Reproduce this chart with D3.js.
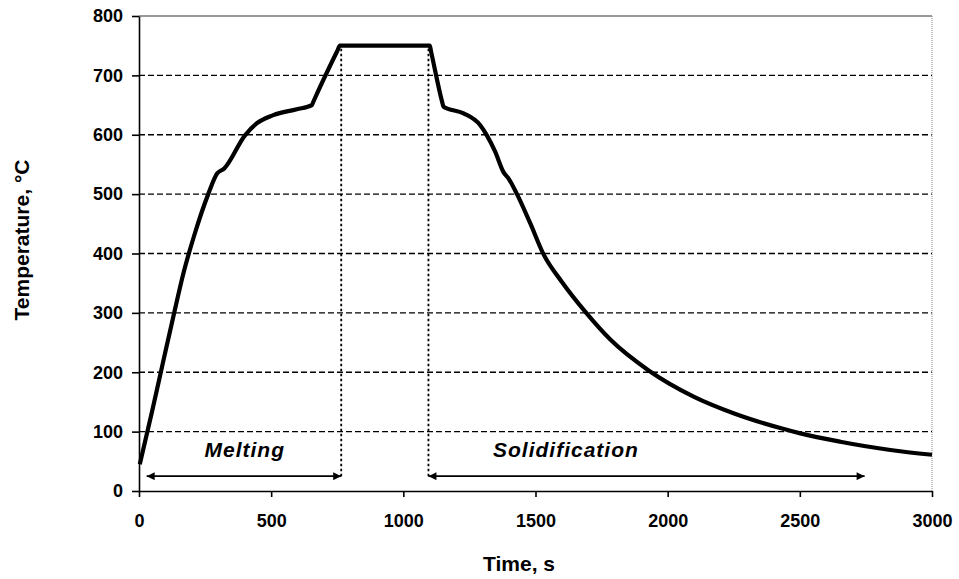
<!DOCTYPE html>
<html>
<head>
<meta charset="utf-8">
<script src="https://cdn.jsdelivr.net/npm/d3@7"></script>
<style>
  html, body { margin: 0; padding: 0; background: #fff; }
  svg { display: block; }
  text { font-family: "Liberation Sans", Arial, sans-serif; fill: #000; }
</style>
</head>
<body>
<svg id="chart" width="959" height="579"></svg>
<script>
// Melt temperature history: heating, holding at 750 °C, then cooling
const timeS = [3, 50, 95, 130, 170, 210, 262, 296, 322, 401, 445, 508, 597, 654, 660, 750, 760,
               1100, 1105, 1147, 1152, 1228, 1291, 1316, 1347, 1379, 1400, 1430, 1480, 1530, 1600, 1688, 1783,
               1928, 2098, 2249, 2426, 2502, 2653, 2843, 3000];
const tempC = [45, 135, 225, 294, 370, 432, 500, 535, 543, 599, 619, 633, 643, 650, 656, 741, 750,
               750, 740, 655, 647, 636, 616, 599, 572, 537, 525, 500, 451, 399, 352, 302, 255,
               203, 159, 131, 106, 97, 83, 69, 61];

const xTicks = [0, 500, 1000, 1500, 2000, 2500, 3000];
const yTicks = [0, 100, 200, 300, 400, 500, 600, 700, 800];

// Process stages marked under the curve
const stageNames = ["Melting", "Solidification"];
const stageStart = [29, 1095];
const stageEnd = [765, 2745];
const stageLabelT = [400, 1615];
const markerTemp = 25;   // height of the stage arrows
const holdTemp = 745;    // top of the stage boundary lines

const svg = d3.select("#chart");
const x = d3.scaleLinear().domain([0, 3000]).range([139, 932]);
const y = d3.scaleLinear().domain([0, 800]).range([491, 16]);

// Arrowhead markers
const defs = svg.append("defs");
["start", "end"].forEach(kind => {
  defs.append("marker")
    .attr("id", "arrow-" + kind)
    .attr("viewBox", "0 0 10 10")
    .attr("refX", kind === "end" ? 10 : 0)
    .attr("refY", 5)
    .attr("markerWidth", 6.5)
    .attr("markerHeight", 5)
    .attr("markerUnits", "strokeWidth")
    .attr("orient", "auto")
    .append("path")
    .attr("d", kind === "end" ? "M0,0 L10,5 L0,10 Z" : "M10,0 L0,5 L10,10 Z")
    .attr("fill", "#000");
});

// Horizontal dashed grid
svg.append("g")
  .selectAll("line")
  .data(yTicks.filter(v => v > 0 && v < 800))
  .join("line")
  .attr("x1", x(0)).attr("x2", x(3000))
  .attr("y1", d => y(d)).attr("y2", d => y(d))
  .attr("stroke", "#000")
  .attr("stroke-width", 1.3)
  .attr("stroke-dasharray", "6,3");

// Frame: top solid line and dotted right edge
svg.append("line")
  .attr("x1", x(0)).attr("x2", x(3000))
  .attr("y1", y(800)).attr("y2", y(800))
  .attr("stroke", "#333").attr("stroke-width", 1.2);
svg.append("line")
  .attr("x1", x(3000)).attr("x2", x(3000))
  .attr("y1", y(800)).attr("y2", y(0))
  .attr("stroke", "#888").attr("stroke-width", 1)
  .attr("stroke-dasharray", "1,1");

// Stage boundaries (dotted verticals)
svg.append("g")
  .selectAll("line")
  .data([stageEnd[0], stageStart[1]])
  .join("line")
  .attr("x1", d => x(d)).attr("x2", d => x(d))
  .attr("y1", y(holdTemp)).attr("y2", y(markerTemp))
  .attr("stroke", "#000")
  .attr("stroke-width", 1.8)
  .attr("stroke-dasharray", "2.5,2.5");

// Stage arrows
svg.append("g")
  .selectAll("line")
  .data(stageNames.map((n, i) => ({ n, a: stageStart[i], b: stageEnd[i] })))
  .join("line")
  .attr("x1", d => x(d.a)).attr("x2", d => x(d.b))
  .attr("y1", y(markerTemp)).attr("y2", y(markerTemp))
  .attr("stroke", "#000")
  .attr("stroke-width", 1.6)
  .attr("marker-start", "url(#arrow-start)")
  .attr("marker-end", "url(#arrow-end)");

// Stage labels
svg.append("g")
  .selectAll("text")
  .data(stageNames.map((n, i) => ({ n, t: stageLabelT[i] })))
  .join("text")
  .attr("x", d => x(d.t))
  .attr("y", 457)
  .attr("text-anchor", "middle")
  .attr("font-size", 21)
  .attr("font-weight", "bold")
  .attr("font-style", "italic")
  .attr("letter-spacing", 1)
  .text(d => d.n);

// Temperature curve
const line = d3.line()
  .x((d, i) => x(timeS[i]))
  .y(d => y(d))
  .curve(d3.curveMonotoneX);
svg.append("path")
  .datum(tempC)
  .attr("d", line)
  .attr("fill", "none")
  .attr("stroke", "#000")
  .attr("stroke-width", 4.2)
  .attr("stroke-linejoin", "round")
  .attr("stroke-linecap", "butt");

// Axes
const fmt = d3.format("d");
const yAxis = svg.append("g")
  .attr("transform", `translate(${x(0)},0)`)
  .call(d3.axisLeft(y).tickValues(yTicks).tickFormat(fmt).tickSize(7).tickSizeOuter(0).tickPadding(9));
yAxis.selectAll("text").attr("font-size", 18).attr("font-weight", "bold")
  .attr("font-family", "'Liberation Sans', Arial, sans-serif");

const xAxis = svg.append("g")
  .attr("transform", `translate(0,${y(0)})`)
  .call(d3.axisBottom(x).tickValues(xTicks).tickFormat(fmt).tickSize(6).tickSizeOuter(0));
xAxis.selectAll("text").attr("font-size", 18).attr("font-weight", "bold")
  .attr("dy", null).attr("y", 36)
  .attr("font-family", "'Liberation Sans', Arial, sans-serif");

[yAxis, xAxis].forEach(g => {
  g.select(".domain").attr("stroke", "#000").attr("stroke-width", 1.6);
  g.selectAll(".tick line").attr("stroke", "#000").attr("stroke-width", 1.6);
});

// Axis titles
svg.append("text")
  .attr("x", 519).attr("y", 571)
  .attr("text-anchor", "middle")
  .attr("font-size", 21).attr("font-weight", "bold")
  .text("Time, s");

svg.append("text")
  .attr("transform", "translate(29,240) rotate(-90)")
  .attr("text-anchor", "middle")
  .attr("font-size", 21).attr("font-weight", "bold")
  .text("Temperature, °C");
</script>
</body>
</html>
